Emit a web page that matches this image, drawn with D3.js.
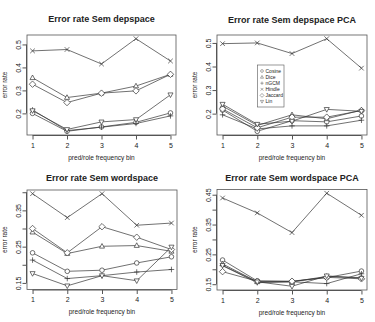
<!DOCTYPE html>
<html>
<head>
<meta charset="utf-8">
<script src="https://cdn.jsdelivr.net/npm/d3@7"></script>
<style>
  body { margin: 0; background: #fff; }
  svg { display: block; }
  text { font-family: "Liberation Sans", Arial, sans-serif; fill: #222; }
</style>
</head>
<body>
<div id="chart"></div>
<script>
// chart size
var w = 375;
var h = 322;

// data (error rate per pred/role frequency bin)
var bins = [1, 2, 3, 4, 5];
var measures = ["Cosine", "Dice", "nGCM", "Hindle", "Jaccard", "Lin"];

// Sem depspace
var depCosine  = [0.200, 0.122, 0.141, 0.161, 0.202];
var depDice    = [0.355, 0.269, 0.288, 0.319, 0.370];
var depNGCM    = [0.215, 0.125, 0.140, 0.156, 0.189];
var depHindle  = [0.472, 0.478, 0.415, 0.525, 0.428];
var depJaccard = [0.327, 0.247, 0.288, 0.298, 0.370];
var depLin     = [0.212, 0.130, 0.163, 0.173, 0.281];

// Sem depspace PCA
var depPcaCosine  = [0.215, 0.125, 0.170, 0.165, 0.190];
var depPcaDice    = [0.232, 0.150, 0.195, 0.178, 0.215];
var depPcaNGCM    = [0.195, 0.135, 0.148, 0.148, 0.172];
var depPcaHindle  = [0.497, 0.500, 0.455, 0.518, 0.393];
var depPcaJaccard = [0.220, 0.140, 0.185, 0.185, 0.213];
var depPcaLin     = [0.240, 0.155, 0.168, 0.218, 0.210];

// Sem wordspace
var wordCosine  = [0.233, 0.182, 0.185, 0.205, 0.222];
var wordDice    = [0.290, 0.231, 0.251, 0.253, 0.237];
var wordNGCM    = [0.213, 0.162, 0.170, 0.180, 0.187];
var wordHindle  = [0.396, 0.330, 0.396, 0.309, 0.315];
var wordJaccard = [0.300, 0.233, 0.305, 0.276, 0.242];
var wordLin     = [0.176, 0.142, 0.170, 0.156, 0.249];

// Sem wordspace PCA
var wordPcaCosine  = [0.231, 0.161, 0.159, 0.172, 0.194];
var wordPcaDice    = [0.218, 0.158, 0.158, 0.176, 0.172];
var wordPcaNGCM    = [0.212, 0.155, 0.158, 0.152, 0.185];
var wordPcaHindle  = [0.439, 0.389, 0.323, 0.455, 0.381];
var wordPcaJaccard = [0.192, 0.160, 0.160, 0.173, 0.168];
var wordPcaLin     = [0.213, 0.158, 0.143, 0.178, 0.170];

// y tick values / which ones get a label
var ticksDep = [0.2, 0.3, 0.4, 0.5];
var ticksWord = [0.15, 0.20, 0.25, 0.30, 0.35, 0.40];
var ticksWordPca = [0.15, 0.20, 0.25, 0.30, 0.35, 0.40, 0.45];
var labelsDep = ["0.2", "0.3", "0.4", "0.5"];
var labelsWord = ["0.15", "", "0.25", "", "0.35", ""];
var labelsWordPca = ["0.15", "", "0.25", "", "0.35", "", "0.45"];

var panels = [
  { title: "Error rate Sem depspace", x0: 27, x1: 176, y0: 35, y1: 135, ty: 21.5,
    series: [depCosine, depDice, depNGCM, depHindle, depJaccard, depLin],
    ticks: ticksDep, labels: labelsDep, legend: false },
  { title: "Error rate Sem depspace PCA", x0: 217, x1: 367, y0: 35, y1: 135, ty: 22.5,
    series: [depPcaCosine, depPcaDice, depPcaNGCM, depPcaHindle, depPcaJaccard, depPcaLin],
    ticks: ticksDep, labels: labelsDep, legend: true },
  { title: "Error rate Sem wordspace", x0: 27, x1: 177, y0: 190, y1: 289.5, ty: 180.5,
    series: [wordCosine, wordDice, wordNGCM, wordHindle, wordJaccard, wordLin],
    ticks: ticksWord, labels: labelsWord, legend: false },
  { title: "Error rate Sem wordspace PCA", x0: 217, x1: 367, y0: 189.5, y1: 290, ty: 180.5,
    series: [wordPcaCosine, wordPcaDice, wordPcaNGCM, wordPcaHindle, wordPcaJaccard, wordPcaLin],
    ticks: ticksWordPca, labels: labelsWordPca, legend: false }
];

var ink = "#333";
var sw = 0.7;

// R pch symbols 1..6
function drawSymbol(g, i, cx, cy) {
  var s = 2.3;
  if (i == 0) {
    g.append("circle").attr("cx", cx).attr("cy", cy).attr("r", s)
     .attr("fill", "white").attr("stroke", ink).attr("stroke-width", sw);
  } else if (i == 1) {
    g.append("path").attr("d", "M" + cx + "," + (cy - s * 1.2) + "L" + (cx + s * 1.1) + "," + (cy + s * 0.8) + "L" + (cx - s * 1.1) + "," + (cy + s * 0.8) + "Z")
     .attr("fill", "white").attr("stroke", ink).attr("stroke-width", sw);
  } else if (i == 2) {
    g.append("path").attr("d", "M" + (cx - s * 1.2) + "," + cy + "H" + (cx + s * 1.2) + "M" + cx + "," + (cy - s * 1.2) + "V" + (cy + s * 1.2))
     .attr("stroke", ink).attr("stroke-width", sw);
  } else if (i == 3) {
    g.append("path").attr("d", "M" + (cx - s) + "," + (cy - s) + "L" + (cx + s) + "," + (cy + s) + "M" + (cx + s) + "," + (cy - s) + "L" + (cx - s) + "," + (cy + s))
     .attr("stroke", ink).attr("stroke-width", sw);
  } else if (i == 4) {
    g.append("path").attr("d", "M" + cx + "," + (cy - s * 1.4) + "L" + (cx + s * 1.4) + "," + cy + "L" + cx + "," + (cy + s * 1.4) + "L" + (cx - s * 1.4) + "," + cy + "Z")
     .attr("fill", "white").attr("stroke", ink).attr("stroke-width", sw);
  } else {
    g.append("path").attr("d", "M" + cx + "," + (cy + s * 1.2) + "L" + (cx + s * 1.1) + "," + (cy - s * 0.8) + "L" + (cx - s * 1.1) + "," + (cy - s * 0.8) + "Z")
     .attr("fill", "white").attr("stroke", ink).attr("stroke-width", sw);
  }
}

function drawSymbolSmall(g, i, cx, cy) {
  var tmp = g.append("g")
    .attr("transform", "translate(" + cx + "," + cy + ") scale(0.6) translate(" + (-cx) + "," + (-cy) + ")");
  drawSymbol(tmp, i, cx, cy);
}

var svg = d3.select("#chart").append("svg")
  .attr("width", w).attr("height", h);

panels.forEach(function(p) {
  var g = svg.append("g");

  // R style 4% padding on the data range
  var all = d3.merge(p.series);
  var lo = d3.min(all), hi = d3.max(all);
  var pad = (hi - lo) * 0.04;

  var xScale = d3.scaleLinear().domain([1 - 0.16, 5 + 0.16]).range([p.x0, p.x1]);
  var yScale = d3.scaleLinear().domain([lo - pad, hi + pad]).range([p.y1, p.y0]);

  // box
  g.append("rect")
    .attr("x", p.x0).attr("y", p.y0)
    .attr("width", p.x1 - p.x0).attr("height", p.y1 - p.y0)
    .attr("fill", "none").attr("stroke", "#555").attr("stroke-width", 0.8);

  // x axis
  var xAxis = d3.axisBottom(xScale).tickValues(bins).tickSize(4).tickPadding(3.5)
    .tickFormat(d3.format("d"));
  var xg = g.append("g").attr("transform", "translate(0," + (p.y1 + 0.5) + ")").call(xAxis);
  xg.select(".domain").attr("d", "M" + xScale(1) + ",0H" + xScale(5)).attr("stroke", "#555");
  xg.selectAll(".tick line").attr("stroke", "#555");
  xg.selectAll("text").attr("font-size", 7).attr("fill", "#222").attr("font-family", "Liberation Sans, Arial, sans-serif");

  // y axis
  var yAxis = d3.axisLeft(yScale).tickValues(p.ticks).tickSize(4)
    .tickFormat(function(d, i) { return p.labels[i]; });
  var yg = g.append("g").attr("transform", "translate(" + (p.x0 - 0.5) + ",0)").call(yAxis);
  yg.select(".domain").attr("d", "M0," + yScale(p.ticks[0]) + "V" + yScale(p.ticks[p.ticks.length - 1])).attr("stroke", "#555");
  yg.selectAll(".tick line").attr("stroke", "#555");
  yg.selectAll("text")
    .attr("font-size", 7).attr("fill", "#222").attr("font-family", "Liberation Sans, Arial, sans-serif")
    .attr("x", null).attr("dy", null)
    .attr("transform", "translate(-6,0) rotate(-90)")
    .attr("text-anchor", "middle");

  // titles
  g.append("text")
    .attr("x", (p.x0 + p.x1) / 2).attr("y", p.ty)
    .attr("text-anchor", "middle").attr("font-size", 9).attr("font-weight", "bold")
    .text(p.title);

  g.append("text")
    .attr("x", (p.x0 + p.x1) / 2).attr("y", p.y1 + 24.5)
    .attr("text-anchor", "middle").attr("font-size", 6.5)
    .text("pred/role frequency bin");

  g.append("text")
    .attr("transform", "translate(" + (p.x0 - 20) + "," + ((p.y0 + p.y1) / 2) + ") rotate(-90)")
    .attr("text-anchor", "middle").attr("font-size", 6.5)
    .text("error rate");

  // lines + points
  var line = d3.line()
    .x(function(d, i) { return xScale(bins[i]); })
    .y(function(d) { return yScale(d); });

  p.series.forEach(function(vals) {
    g.append("path").datum(vals).attr("d", line)
      .attr("fill", "none").attr("stroke", ink).attr("stroke-width", sw);
  });
  p.series.forEach(function(vals, si) {
    vals.forEach(function(v, i) {
      drawSymbol(g, si, xScale(bins[i]), yScale(v));
    });
  });

  // legend
  if (p.legend) {
    var lx = 257.5, ly = 65;
    g.append("rect").attr("x", lx).attr("y", ly).attr("width", 26.5).attr("height", 42)
      .attr("fill", "white").attr("stroke", "#555").attr("stroke-width", 0.6);
    measures.forEach(function(m, i) {
      var yy = ly + 6 + i * 6.1;
      drawSymbolSmall(g, i, lx + 4.5, yy);
      g.append("text").attr("x", lx + 8).attr("y", yy + 1.8)
        .attr("font-size", 5).text(m);
    });
  }
});
</script>
</body>
</html>
